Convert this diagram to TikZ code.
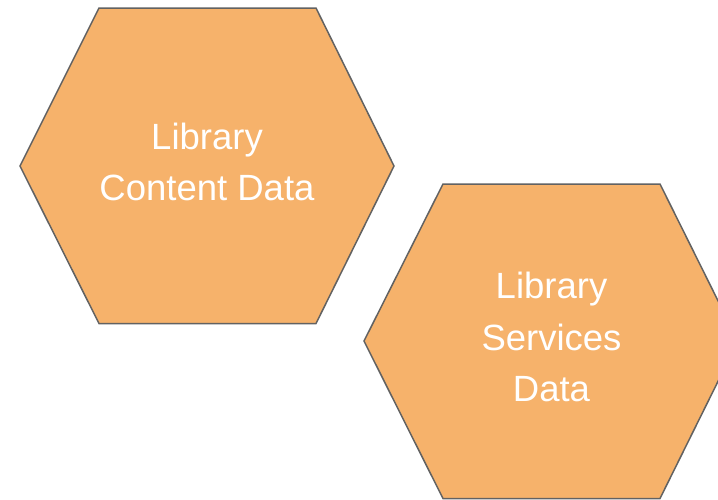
\documentclass[tikz,border=0pt]{standalone}
\usepackage{fontspec}
\setmainfont{Liberation Sans}
\definecolor{hexfill}{HTML}{F6B26B}
\definecolor{hexline}{HTML}{626262}
\tikzset{
  hexbox/.style={fill=hexfill, draw=hexline, line width=1.5pt, line join=miter},
  hexlabel/.style={text=white, align=center, anchor=base, inner sep=0pt,
    font=\fontsize{36.5}{51.3}\selectfont}
}
\begin{document}
\begin{tikzpicture}[x=1pt,y=-1pt]
\useasboundingbox (0,0) rectangle (718,499);
\clip (0,0) rectangle (718,499);
\fill[white] (0,0) rectangle (718,499);
% hexagon 1
\draw[hexbox] (20,166) -- (99,8) -- (316,8) -- (394,166) -- (316,323.5) -- (99,323.5) -- cycle;
% hexagon 2
\draw[hexbox] (364,341) -- (443,184) -- (660,184) -- (738,341) -- (660,498.5) -- (443,498.5) -- cycle;
\node[hexlabel] (content) at (207,200.5) {Library\\Content Data};
\node[hexlabel] (services) at (551.5,401.5) {Library\\Services\\Data};
\end{tikzpicture}
\end{document}
